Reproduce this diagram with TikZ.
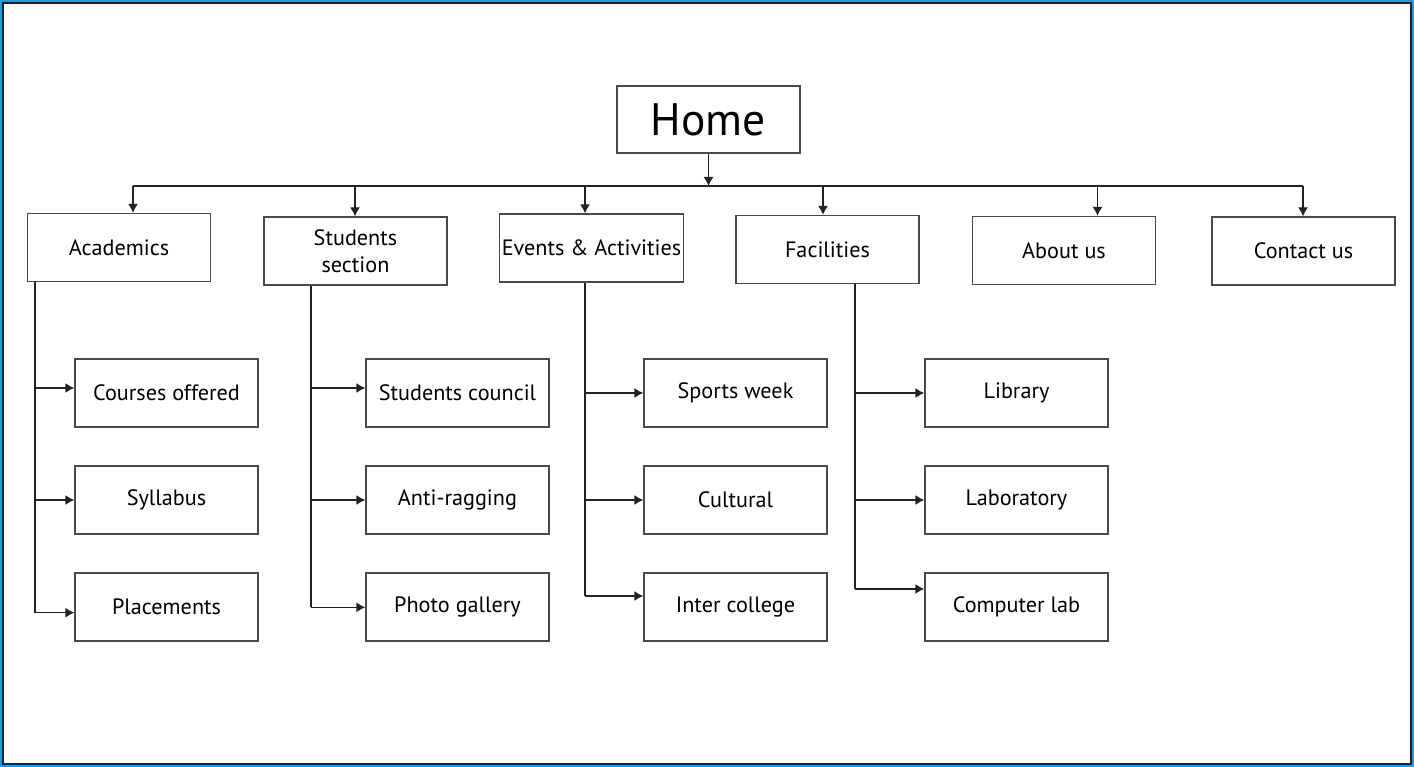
\documentclass[tikz,border=0pt]{standalone}
\usepackage{fontspec}
\setmainfont{PT Sans}
\usetikzlibrary{arrows.meta,positioning}
\definecolor{cFrame}{HTML}{1C9BE6}
\definecolor{cEdge}{HTML}{222222}
\definecolor{cBox}{HTML}{4A4A4A}
\tikzset{
  box/.style={rectangle,draw=cBox,line width=1.3pt,fill=white,minimum width=183pt,minimum height=68pt,inner sep=2pt,align=center,font=\fontsize{22.2}{27}\selectfont},
  homebox/.style={box,minimum height=67pt,font=\fontsize{45.5}{48}\selectfont},
  lnk/.style={line width=1.3pt,cEdge},
  arr/.style={lnk,-{Latex[length=9pt,width=10pt]}},
}

\begin{document}
\begin{tikzpicture}[x=1pt,y=-1pt]
  % frame
  \fill[cFrame] (0,0) rectangle (1414,767);
  \fill[cEdge] (2,2) rectangle (1412,765);
  \fill[white] (4.3,4) rectangle (1410,762.7);
  \useasboundingbox (0,0) rectangle (1414,767);
  % home and the bus below it
  \node[homebox] (home) at (708.5,119.5) {Home};
  \coordinate (b1) at (133,186);
  \coordinate (b2) at (355,186);
  \coordinate (b3) at (585,186);
  \coordinate (b4) at (823,186);
  \coordinate (b5) at (1097.5,186);
  \coordinate (b6) at (1303,186);
  \draw[lnk] (b1)--(b6);
  \draw[arr] (home.south)--(home.south |- b1);
  % first level
  \node[box] (acad) at (119,247.5) {Academics};
  \node[box] (stud) at (355.5,251) {Students\\section};
  \node[box] (evt) at (591.5,248) {Events \& Activities};
  \node[box] (fac) at (827.5,249.5) {Facilities};
  \node[box] (about) at (1064,250.5) {About us};
  \node[box] (cont) at (1303.5,251) {Contact us};
  \draw[arr] (b1)--(b1 |- acad.north);
  \draw[arr] (b2)--(b2 |- stud.north);
  \draw[arr] (b3)--(b3 |- evt.north);
  \draw[arr] (b4)--(b4 |- fac.north);
  \draw[arr] (b5)--(b5 |- about.north);
  \draw[arr] (b6)--(b6 |- cont.north);
  % academics
  \node[box] (courses) at (166.5,393) {Courses offered};
  \node[box] (syl) at (166.5,500) {Syllabus};
  \node[box] (plc) at (166.5,607) {Placements};
  \coordinate (ta) at (35,0);
  \coordinate (courses-in) at (courses.west |- 0,388);
  \coordinate (syl-in) at (syl.west |- 0,500);
  \coordinate (plc-in) at (plc.west |- 0,612.7);
  \draw[lnk] (ta |- acad.south)--(ta |- plc-in);
  \draw[arr] (ta |- courses-in)--(courses-in);
  \draw[arr] (ta |- syl-in)--(syl-in);
  \draw[arr] (ta |- plc-in)--(plc-in);
  % students section
  \node[box] (council) at (457.5,393) {Students council};
  \node[box] (rag) at (457.5,500) {Anti-ragging};
  \node[box] (photo) at (457.5,607) {Photo gallery};
  \coordinate (ts) at (311,0);
  \coordinate (council-in) at (council.west |- 0,388);
  \coordinate (rag-in) at (rag.west |- 0,500);
  \coordinate (photo-in) at (photo.west |- 0,607.3);
  \draw[lnk] (ts |- stud.south)--(ts |- photo-in);
  \draw[arr] (ts |- council-in)--(council-in);
  \draw[arr] (ts |- rag-in)--(rag-in);
  \draw[arr] (ts |- photo-in)--(photo-in);
  % events
  \node[box] (sports) at (735.5,393) {Sports week};
  \node[box] (cult) at (735.5,500) {Cultural};
  \node[box] (inter) at (735.5,607) {Inter college};
  \coordinate (te) at (585,0);
  \coordinate (sports-in) at (sports.west |- 0,393);
  \coordinate (cult-in) at (cult.west |- 0,500);
  \coordinate (inter-in) at (inter.west |- 0,596);
  \draw[lnk] (te |- evt.south)--(te |- inter-in);
  \draw[arr] (te |- sports-in)--(sports-in);
  \draw[arr] (te |- cult-in)--(cult-in);
  \draw[arr] (te |- inter-in)--(inter-in);
  % facilities
  \node[box] (lib) at (1016.5,393) {Library};
  \node[box] (lab) at (1016.5,500) {Laboratory};
  \node[box] (comp) at (1016.5,607) {Computer lab};
  \coordinate (tf) at (855,0);
  \coordinate (lib-in) at (lib.west |- 0,393);
  \coordinate (lab-in) at (lab.west |- 0,500);
  \coordinate (comp-in) at (comp.west |- 0,589);
  \draw[lnk] (tf |- fac.south)--(tf |- comp-in);
  \draw[arr] (tf |- lib-in)--(lib-in);
  \draw[arr] (tf |- lab-in)--(lab-in);
  \draw[arr] (tf |- comp-in)--(comp-in);
\end{tikzpicture}
\end{document}
